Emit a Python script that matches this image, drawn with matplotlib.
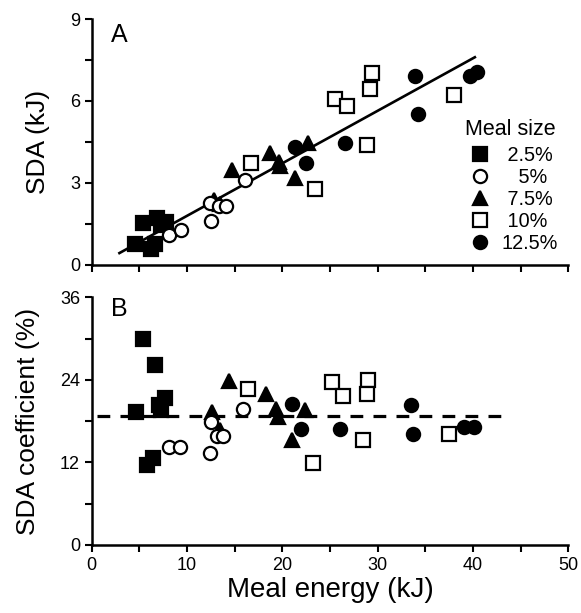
import matplotlib
matplotlib.use('Agg')
import matplotlib.pyplot as plt
from matplotlib.ticker import MultipleLocator

plt.rcParams['font.family'] = ['Liberation Sans', 'DejaVu Sans']

# meal size groups
sizes = ['2.5%', '5%', '7.5%', '10%', '12.5%']
legend_labels = [' 2.5%', '   5%', ' 7.5%', ' 10%', '12.5%']
markers = ['s', 'o', '^', 's', 'o']
filled = [True, False, True, False, True]

# panel A: meal energy (kJ) vs SDA (kJ)
a_x = [
    [4.5, 5.4, 6.2, 6.6, 6.8, 7.3, 7.8],
    [8.1, 9.4, 12.5, 12.4, 13.3, 14.1, 16.1],
    [12.8, 13.5, 14.7, 18.7, 19.6, 19.8, 21.3, 22.7],
    [16.7, 23.4, 25.5, 26.8, 29.4, 29.2, 28.9, 38.0],
    [21.3, 22.5, 26.6, 33.9, 34.2, 39.7, 40.4],
]
a_y = [
    [0.78, 1.52, 0.58, 0.78, 1.72, 1.45, 1.58],
    [1.10, 1.27, 1.62, 2.28, 2.15, 2.15, 3.11],
    [2.38, 2.22, 3.48, 4.09, 3.78, 3.60, 3.18, 4.46],
    [3.72, 2.77, 6.07, 5.82, 7.04, 6.43, 4.40, 6.20],
    [4.33, 3.72, 4.46, 6.92, 5.52, 6.90, 7.05],
]

# panel B: meal energy (kJ) vs SDA coefficient (%)
b_x = [
    [4.6, 5.4, 6.6, 7.7, 7.1, 7.3, 6.4, 5.8],
    [8.1, 9.3, 12.4, 12.5, 13.1, 13.8, 15.9],
    [12.6, 13.5, 14.4, 18.3, 19.3, 19.5, 21.0, 22.4],
    [16.4, 23.2, 25.2, 26.4, 29.0, 28.9, 28.5, 37.5],
    [21.0, 22.0, 26.1, 33.5, 33.7, 39.1, 40.1],
]
b_y = [
    [19.3, 30.0, 26.2, 21.3, 20.3, 19.6, 12.6, 11.6],
    [14.3, 14.3, 13.4, 17.9, 15.8, 15.8, 19.8],
    [19.3, 16.7, 23.9, 22.0, 19.8, 18.6, 15.2, 19.6],
    [22.6, 11.9, 23.7, 21.7, 24.0, 22.0, 15.2, 16.2],
    [20.5, 16.8, 16.8, 20.3, 16.1, 17.1, 17.1],
]

# regression line in A and mean coefficient in B
fit_x = [2.9, 40.2]
fit_y = [0.43, 7.6]
mean_x = [0.5, 43.3]
mean_y = [18.8, 18.8]

fig = plt.figure(figsize=(5.81, 6.13), dpi=100)
axA = fig.add_axes([0.158, 0.568, 0.82, 0.401])
axB = fig.add_axes([0.158, 0.111, 0.82, 0.404])

def draw(ax, xs, ys):
    handles = []
    for i in range(len(sizes)):
        ms = 10 if markers[i] == 's' and filled[i] else 9.5
        h, = ax.plot(xs[i], ys[i], linestyle='none', marker=markers[i], ms=ms,
                     mfc='black' if filled[i] else 'white', mec='black',
                     mew=1.6, zorder=3 if filled[i] else 4)
        handles.append(h)
    return handles

hs = draw(axA, a_x, a_y)
axA.plot(fit_x, fit_y, color='black', lw=1.9, zorder=2)
draw(axB, b_x, b_y)
axB.plot(mean_x, mean_y, color='black', lw=2.3, linestyle=(0, (4, 3.2)), zorder=2)

for ax in (axA, axB):
    ax.set_xlim(0, 50)
    ax.spines['top'].set_visible(False)
    ax.spines['right'].set_visible(False)
    ax.spines['left'].set_linewidth(1.8)
    ax.spines['bottom'].set_linewidth(1.8)
    ax.xaxis.set_major_locator(MultipleLocator(10))
    ax.xaxis.set_minor_locator(MultipleLocator(5))
    ax.tick_params(which='both', direction='out', length=5, width=1.5,
                   labelsize=13)

axA.set_ylim(0, 9)
axA.yaxis.set_major_locator(MultipleLocator(3))
axA.yaxis.set_minor_locator(MultipleLocator(1.5))
axA.tick_params(axis='x', labelbottom=False)
axA.set_ylabel('SDA (kJ)', fontsize=19, labelpad=14)
axA.text(0.04, 0.985, 'A', transform=axA.transAxes, fontsize=18, va='top')

axB.set_ylim(0, 36)
axB.yaxis.set_major_locator(MultipleLocator(12))
axB.yaxis.set_minor_locator(MultipleLocator(6))
axB.set_ylabel('SDA coefficient (%)', fontsize=19, labelpad=14)
axB.set_xlabel('Meal energy (kJ)', fontsize=20, labelpad=2)
axB.text(0.04, 1.0, 'B', transform=axB.transAxes, fontsize=18, va='top')

axA.text(0.784, 0.528, 'Meal size', transform=axA.transAxes, fontsize=15.5,
         va='baseline', ha='left')
leg = axA.legend(hs, legend_labels, loc='upper left',
                 bbox_to_anchor=(0.794, 0.485), frameon=False, fontsize=14.3,
                 handlelength=1.0, handletextpad=0.6,
                 labelspacing=0.15, borderpad=0, borderaxespad=0)

fig.savefig('out.png', dpi=100)
